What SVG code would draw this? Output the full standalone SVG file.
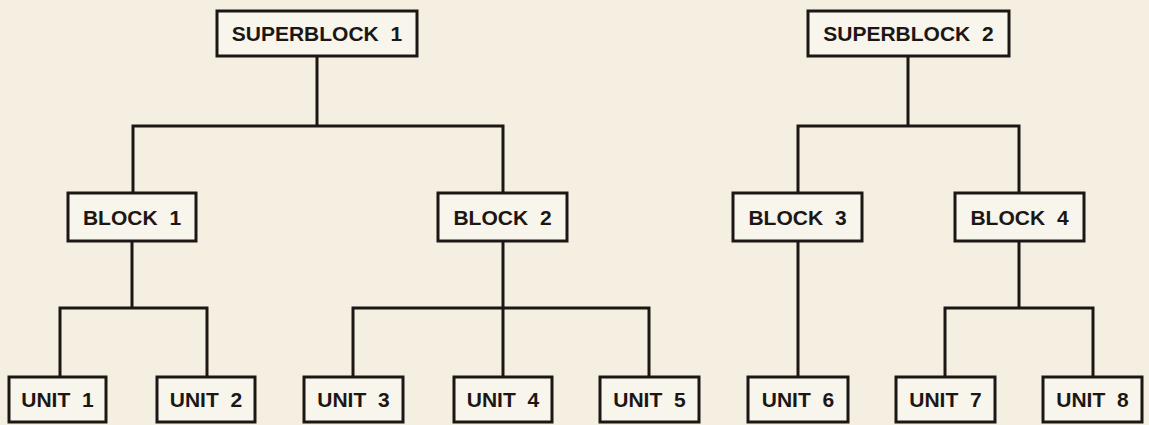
<svg xmlns="http://www.w3.org/2000/svg" width="1149" height="425" viewBox="0 0 1149 425">
<style>
.bg{fill:#f4efe1}
.box{fill:#f8f5ec;stroke:#1c1714;stroke-width:3}
.lbl{font-family:"Liberation Sans",Arial,sans-serif;font-weight:bold;font-size:21px;fill:#1c1714;text-anchor:middle;word-spacing:6px}
.con{fill:none;stroke:#1c1714;stroke-width:3;stroke-linecap:square}
</style>
<rect class="bg" x="0" y="0" width="1149" height="425"/>
<g id="connectors">
<path class="con" d="M317 56V126M133 126H503M133 126V193M503 126V193"/>
<path class="con" d="M908 56V126M798 126H1019M798 126V193M1019 126V193"/>
<path class="con" d="M132 241V308M60 308H207M60 308V377M207 308V377"/>
<path class="con" d="M503 241V377M353 308H649M353 308V377M649 308V377"/>
<path class="con" d="M798 241V377"/>
<path class="con" d="M1019 241V308M945 308H1093M945 308V377M1093 308V377"/>
</g>
<g id="superblock1"><rect class="box" x="217" y="11" width="200" height="45"/><text class="lbl" x="317" y="41">SUPERBLOCK 1</text></g>
<g id="superblock2"><rect class="box" x="808" y="11" width="201" height="45"/><text class="lbl" x="908.5" y="41">SUPERBLOCK 2</text></g>
<g id="block1"><rect class="box" x="68" y="193" width="128" height="48"/><text class="lbl" x="132" y="225">BLOCK 1</text></g>
<g id="block2"><rect class="box" x="438" y="193" width="129" height="48"/><text class="lbl" x="502.5" y="225">BLOCK 2</text></g>
<g id="block3"><rect class="box" x="733" y="193" width="129" height="48"/><text class="lbl" x="797.5" y="225">BLOCK 3</text></g>
<g id="block4"><rect class="box" x="955" y="193" width="129" height="48"/><text class="lbl" x="1019.5" y="225">BLOCK 4</text></g>
<g id="unit1"><rect class="box" x="9" y="377" width="97" height="45"/><text class="lbl" x="57.5" y="407">UNIT 1</text></g>
<g id="unit2"><rect class="box" x="157" y="377" width="98" height="45"/><text class="lbl" x="206" y="407">UNIT 2</text></g>
<g id="unit3"><rect class="box" x="304" y="377" width="99" height="45"/><text class="lbl" x="353.5" y="407">UNIT 3</text></g>
<g id="unit4"><rect class="box" x="454" y="377" width="98" height="45"/><text class="lbl" x="503" y="407">UNIT 4</text></g>
<g id="unit5"><rect class="box" x="600" y="377" width="99" height="45"/><text class="lbl" x="649.5" y="407">UNIT 5</text></g>
<g id="unit6"><rect class="box" x="748" y="377" width="100" height="45"/><text class="lbl" x="798" y="407">UNIT 6</text></g>
<g id="unit7"><rect class="box" x="896" y="377" width="99" height="45"/><text class="lbl" x="945.5" y="407">UNIT 7</text></g>
<g id="unit8"><rect class="box" x="1043" y="377" width="99" height="45"/><text class="lbl" x="1092.5" y="407">UNIT 8</text></g>
</svg>
